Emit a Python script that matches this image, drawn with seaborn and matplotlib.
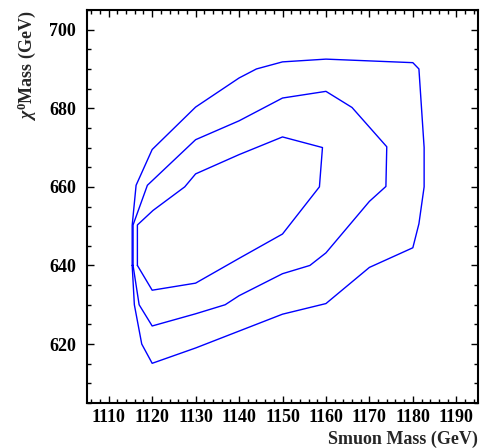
import matplotlib
matplotlib.use('Agg')
import matplotlib.pyplot as plt
from matplotlib.ticker import MultipleLocator
import pandas as pd
import seaborn as sns

# contour vertices (smuon mass, neutralino mass)
outer_x = [1115.4, 1115.4, 1116.3, 1120, 1130, 1140, 1144, 1150, 1160, 1180, 1181.4,
           1182.0, 1182.6, 1182.6, 1181.4, 1180, 1170, 1160, 1150, 1130, 1120, 1117.6,
           1115.9, 1115.4]
outer_y = [640, 650.2, 660.4, 669.5, 680.3, 687.7, 690, 691.8, 692.5, 691.6, 690,
           680, 670, 660, 650.6, 644.5, 639.5, 630.3, 627.6, 619, 615.1, 620,
           630, 640]

middle_x = [1115.6, 1115.6, 1118.9, 1130, 1140, 1150, 1160, 1166, 1174, 1173.8, 1170,
            1160, 1156.3, 1150, 1140, 1136.8, 1130, 1120, 1117, 1115.6]
middle_y = [640, 650.3, 660.4, 672, 676.8, 682.6, 684.3, 680.2, 670.2, 660.1, 656.3,
            643.2, 640, 637.9, 632.3, 630, 627.7, 624.6, 630, 640]

inner_x = [1116.6, 1116.6, 1120.2, 1127.5, 1130, 1140, 1150, 1159.2, 1158.5, 1150,
           1140, 1130, 1120, 1116.6]
inner_y = [640, 650.3, 654, 660, 663.3, 668.2, 672.7, 670, 660, 648,
           641.8, 635.5, 633.7, 640]

x_ticks = [1110, 1120, 1130, 1140, 1150, 1160, 1170, 1180, 1190]
y_ticks = [620, 640, 660, 680, 700]

sns.set_style('ticks')
plt.rcParams['font.family'] = ['Liberation Serif', 'DejaVu Serif']
plt.rcParams['font.weight'] = 'bold'
plt.rcParams['mathtext.fontset'] = 'custom'
plt.rcParams['mathtext.rm'] = 'Liberation Serif:bold'
plt.rcParams['mathtext.it'] = 'Liberation Serif:italic'
plt.rcParams['mathtext.bf'] = 'Liberation Serif:bold'

fig = plt.figure(figsize=(4.82, 4.48), dpi=100)
ax = fig.add_axes([87 / 482, 45 / 448, 391 / 482, 393 / 448])

for xs, ys in [(outer_x, outer_y), (middle_x, middle_y), (inner_x, inner_y)]:
    df = pd.DataFrame({'smuon': xs, 'chi': ys})
    sns.lineplot(data=df, x='smuon', y='chi', sort=False, estimator=None,
                 color='#0000ff', linewidth=1.0, ax=ax, legend=False)

ax.set_xlim(1105, 1195)
ax.set_ylim(605, 705)
ax.set_xticks(x_ticks)
ax.set_yticks(y_ticks)
ax.xaxis.set_minor_locator(MultipleLocator(2))
ax.yaxis.set_minor_locator(MultipleLocator(5))
ax.tick_params(which='both', direction='in', top=True, right=True, width=1, colors='black')
ax.tick_params(which='major', length=5, labelsize=13, pad=4)
ax.tick_params(axis='y', which='major', pad=8)
ax.tick_params(which='minor', length=3)
for lab in ax.get_xticklabels() + ax.get_yticklabels():
    lab.set_fontweight('bold')
for s in ax.spines.values():
    s.set_linewidth(1.5)
    s.set_color('black')

ax.set_xlabel('Smuon Mass (GeV)', fontsize=13, fontweight='bold', loc='right')
ax.xaxis.set_label_coords(1.0, -0.07)
ax.set_ylabel(r'$\chi^{\mathbf{0}}$Mass (GeV)', fontsize=13, fontweight='bold', loc='top')
ax.yaxis.set_label_coords(-0.125, 1.0)

fig.savefig('out.png', dpi=100)
